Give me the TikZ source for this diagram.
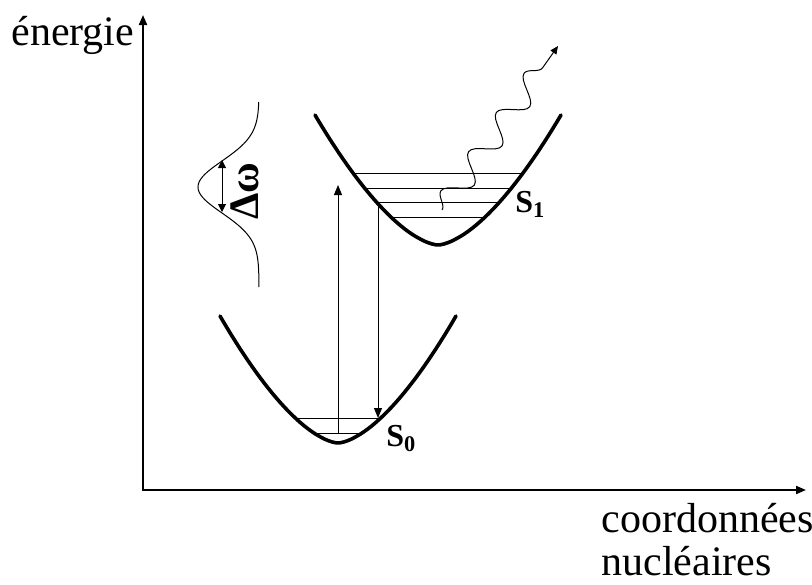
\documentclass[tikz,border=0pt]{standalone}
\usepackage{fontspec}
\setmainfont{Liberation Serif}
\usepackage{tikz}
\usetikzlibrary{positioning,arrows.meta,decorations.pathmorphing}
\providecommand{\etat}[1]{\fontsize{16pt}{19pt}\selectfont\textbf{#1}}

\begin{document}
\begin{tikzpicture}[x=0.5pt, y=-0.5pt,
  axe/.style={line width=1pt, {Triangle[length=5pt,width=4pt]}-{Triangle[length=5pt,width=4pt]}},
  puits/.style={line width=1.8pt, line join=round, line cap=round},
  niveau/.style={line width=0.5pt},
  trans/.style={line width=0.5pt, -{Triangle[length=5pt,width=4pt]}},
  grand/.style={font=\fontsize{21pt}{25pt}\selectfont, inner sep=0pt}
]
\useasboundingbox (0,0) rectangle (812,584);
\coordinate (O) at (143,490);
\coordinate (ytop) at (143,15);
\coordinate (xend) at (806,490);
\draw[axe] (ytop) -- (O) -- (xend);
\node[grand, anchor=base west] (energie) at (11,45) {énergie};
\node[grand, anchor=base west] (coord) at (601,532) {coordonnées};
\node[grand, anchor=base west] (nucl) at (601,575) {nucléaires};

\draw[niveau] plot[domain=102:287, samples=90, variable=\t]
  ({259-61*exp(-0.5*((\t-187)/26)^2)}, \t);
\coordinate (dwh) at (222,160);
\coordinate (dwb) at (222,212);
\draw[niveau, {Triangle[length=4pt,width=4pt]}-{Triangle[length=4pt,width=4pt]}] (dwh) -- (dwb);
\node[grand, anchor=base, rotate=90] (dw) at (258,191) {\textbf{Δω}};

\draw[puits] plot[domain=-118:118, samples=60, variable=\t]
  ({338+\t}, {443-127*pow(abs(\t)/118,1.6)});
\draw[puits] plot[domain=-123:123, samples=62, variable=\t]
  ({438+\t}, {245-130*pow(abs(\t)/123,1.6)});

\draw[niveau] (295,418) -- (381,418);
\draw[niveau] (314,433) -- (362,433);
\draw[niveau] (353,173) -- (523,173);
\draw[niveau] (364.5,188) -- (511.5,188);
\draw[niveau] (376,202) -- (500,202);
\draw[niveau] (391,217) -- (485,217);

\node[anchor=base west, inner sep=0pt] (s1) at (515,212) {\etat{S\textsubscript{1}}};
\node[anchor=base west, inner sep=0pt] (s0) at (386,446) {\etat{S\textsubscript{0}}};

\coordinate (abs0) at (338,433);
\coordinate (abs1) at (338,185);
\coordinate (em1) at (378,204);
\coordinate (em0) at (378,418);
\draw[trans] (abs0) -- (abs1);
\draw[trans] (em1) -- (em0);

\coordinate (ph0) at (442,210);
\coordinate (ph1) at (558,46);
\draw[line width=0.5pt, -{Triangle[length=4pt,width=3.5pt]}, decorate,
  decoration={snake, amplitude=6pt, segment length=24pt, post length=7pt}] (ph0) -- (ph1);
\end{tikzpicture}
\end{document}
